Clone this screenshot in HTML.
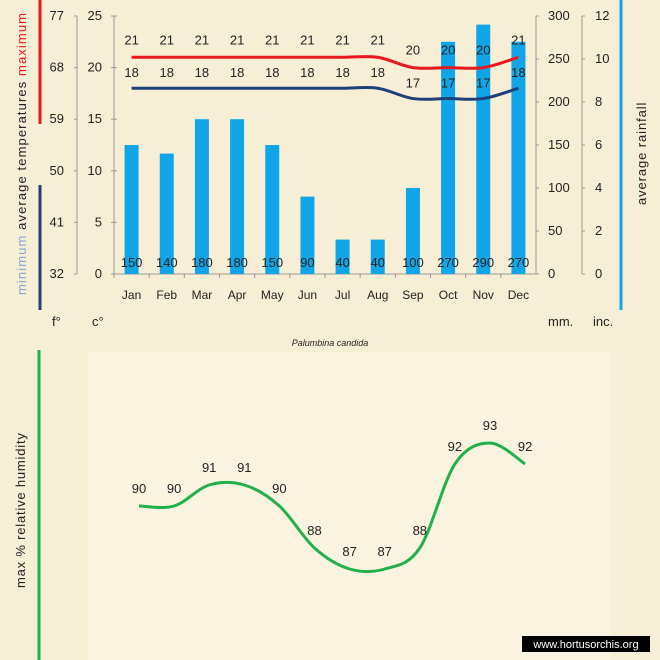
<!DOCTYPE html>
<html><head><meta charset="utf-8"><style>
body{margin:0;background:#f7eed6;}
svg{display:block;font-family:"Liberation Sans",sans-serif;}
</style></head><body>
<svg id="c" width="660" height="660" xmlns="http://www.w3.org/2000/svg">
<rect x="0" y="0" width="660" height="660" fill="#f7eed6"/>
<rect x="88" y="352" width="522" height="308" fill="#faf3df"/>
<g id="top"></g><g id="bot"></g>
</svg>
<script>
const months=["Jan","Feb","Mar","Apr","May","Jun","Jul","Aug","Sep","Oct","Nov","Dec"];
const rain=[150,140,180,180,150,90,40,40,100,270,290,270];
const tmax=[21,21,21,21,21,21,21,21,20,20,20,21];
const tmin=[18,18,18,18,18,18,18,18,17,17,17,18];
const humid=[90,90,91,91,90,88,87,87,88,92,93,92];
const cTicks=[0,5,10,15,20,25];
const fTicks=[32,41,50,59,68,77];
const mmTicks=[0,50,100,150,200,250,300];
const inTicks=[0,2,4,6,8,10,12];
const NS="http://www.w3.org/2000/svg";
const svg=document.getElementById('c');
function el(t,a,p,txt){const e=document.createElementNS(NS,t);for(const k in a)e.setAttribute(k,a[k]);if(txt!==undefined)e.textContent=txt;(p||svg).appendChild(e);return e;}
const X0=114,X1=536,Y0=274,Y1=16;
const bw=(X1-X0)/12;
const xc=i=>X0+bw*(i+0.5);
const yC=v=>Y0-(v/25)*(Y0-Y1);
const yMM=v=>Y0-(v/300)*(Y0-Y1);
const yF=v=>Y0-((v-32)/45)*(Y0-Y1);
const yIn=v=>Y0-(v/12)*(Y0-Y1);
const T=document.getElementById('top');
function smooth(pts){let d=`M${pts[0][0]},${pts[0][1]}`;for(let i=0;i<pts.length-1;i++){const p0=pts[i-1]||pts[i],p1=pts[i],p2=pts[i+1],p3=pts[i+2]||p2;const c1=[p1[0]+(p2[0]-p0[0])/6,p1[1]+(p2[1]-p0[1])/6],c2=[p2[0]-(p3[0]-p1[0])/6,p2[1]-(p3[1]-p1[1])/6];d+=` C${c1[0]},${c1[1]} ${c2[0]},${c2[1]} ${p2[0]},${p2[1]}`;}return d;}
let a;
a=el('line',{x1:X0,y1:Y1,x2:X0,y2:Y0,stroke:'#999'},T);
a=el('line',{x1:77,y1:Y1,x2:77,y2:Y0,stroke:'#999'},T);
a=el('line',{x1:X1,y1:Y1,x2:X1,y2:Y0,stroke:'#999'},T);
a=el('line',{x1:582,y1:Y1,x2:582,y2:Y0,stroke:'#999'},T);
a=el('line',{x1:X0,y1:Y0,x2:X1,y2:Y0,stroke:'#999'},T);
cTicks.forEach(v=>{const y=yC(v);el('line',{x1:X0-3,y1:y,x2:X0+3,y2:y,stroke:'#999'},T);const t=el('text',{x:X0-12,y:y+4,'font-size':13,'text-anchor':'end',fill:'#222'},T,v);});
fTicks.forEach(v=>{const y=yF(v);el('line',{x1:74,y1:y,x2:77,y2:y,stroke:'#999'},T);const t=el('text',{x:64,y:y+4,'font-size':13,'text-anchor':'end',fill:'#222'},T,v);});
mmTicks.forEach(v=>{const y=yMM(v);el('line',{x1:X1,y1:y,x2:X1+3,y2:y,stroke:'#999'},T);const t=el('text',{x:548,y:y+4,'font-size':13,fill:'#222'},T,v);});
inTicks.forEach(v=>{const y=yIn(v);el('line',{x1:582,y1:y,x2:585,y2:y,stroke:'#999'},T);const t=el('text',{x:595,y:y+4,'font-size':13,fill:'#222'},T,v);});
months.forEach((m,i)=>{el('line',{x1:X0+bw*i,y1:Y0,x2:X0+bw*i,y2:Y0+4,stroke:'#999'},T);const t=el('text',{x:xc(i),y:299,'font-size':12,'text-anchor':'middle',fill:'#222'},T,m);});
rain.forEach((v,i)=>{const b=el('rect',{x:xc(i)-7,y:yMM(v),width:14,height:Y0-yMM(v),fill:'#10a5e6'},T);
const t=el('text',{x:xc(i),y:267,'font-size':13,'text-anchor':'middle',fill:'#222'},T,v);});
let p=el('path',{d:smooth(tmax.map((v,i)=>[xc(i),yC(v)])),fill:'none',stroke:'#e8181c','stroke-width':3},T);
p=el('path',{d:smooth(tmin.map((v,i)=>[xc(i),yC(v)])),fill:'none',stroke:'#1f3f7a','stroke-width':3},T);
tmax.forEach((v,i)=>{const t=el('text',{x:xc(i),y:yC(v)-13,'font-size':13,'text-anchor':'middle',fill:'#222'},T,v);});
tmin.forEach((v,i)=>{const t=el('text',{x:xc(i),y:yC(v)-11,'font-size':13,'text-anchor':'middle',fill:'#222'},T,v);});
const B=document.getElementById('bot');
const hx=i=>139+i*35.1;
const hy=v=>506-(v-90)*21;
p=el('path',{d:smooth(humid.map((v,i)=>[hx(i),hy(v)])),fill:'none',stroke:'#22b04a','stroke-width':3},B);
humid.forEach((v,i)=>{const t=el('text',{x:hx(i),y:hy(v)-13,'font-size':13,'text-anchor':'middle',fill:'#222'},B,v);});
</script>
<svg width="660" height="660" style="position:absolute;left:0;top:0" xmlns="http://www.w3.org/2000/svg">
<line x1="40" y1="0" x2="40" y2="124" stroke="#e8181c" stroke-width="3"/>
<line x1="40" y1="185" x2="40" y2="310" stroke="#1f3f7a" stroke-width="3"/>
<line x1="621" y1="0" x2="621" y2="310" stroke="#10a5e6" stroke-width="3"/>
<line x1="39" y1="350" x2="39" y2="660" stroke="#22b04a" stroke-width="3"/>
<text transform="translate(26,295) rotate(-90)" font-size="13" letter-spacing="1.1" font-family="Liberation Sans,sans-serif" fill="#222"><tspan fill="#7fa9d8">minimum</tspan>  average  temperatures  <tspan fill="#e8181c">maximum</tspan></text>
<text transform="translate(646,205) rotate(-90)" font-size="13" letter-spacing="0.9" font-family="Liberation Sans,sans-serif" fill="#222">average  rainfall</text>
<text transform="translate(25,588) rotate(-90)" font-size="13" letter-spacing="0.8" font-family="Liberation Sans,sans-serif" fill="#222">max  %   relative  humidity</text>
<text x="52" y="326" font-size="13" font-family="Liberation Sans,sans-serif" fill="#222">f°</text>
<text x="92" y="326" font-size="13" font-family="Liberation Sans,sans-serif" fill="#222">c°</text>
<text x="548" y="326" font-size="13" font-family="Liberation Sans,sans-serif" fill="#222">mm.</text>
<text x="593" y="326" font-size="13" font-family="Liberation Sans,sans-serif" fill="#222">inc.</text>
<text x="330" y="346" font-size="9" font-style="italic" text-anchor="middle" font-family="Liberation Sans,sans-serif" fill="#222">Palumbina candida</text>
<rect x="522" y="636" width="128" height="16" fill="#000"/>
<text x="586" y="648" font-size="11" text-anchor="middle" font-family="Liberation Sans,sans-serif" fill="#fff">www.hortusorchis.org</text>
</svg>
</body></html>
